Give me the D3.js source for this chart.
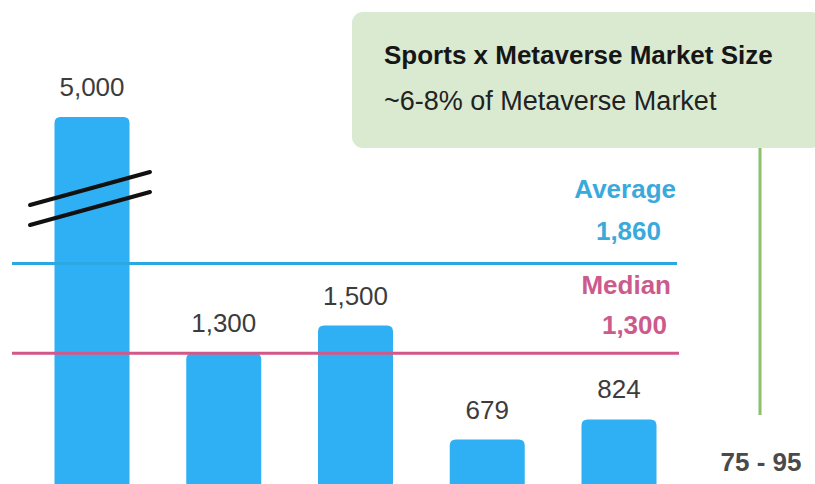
<!DOCTYPE html>
<html><head><meta charset="utf-8">
<script src="https://cdn.jsdelivr.net/npm/d3@7"></script>
<style>html,body{margin:0;padding:0;background:#fff;}svg{display:block;font-family:"Liberation Sans",Arial,Helvetica,sans-serif;}</style>
</head><body>
<svg id="c" width="815" height="484"></svg>
<script>
const categories = ["Estimate A","Estimate B","Estimate C","Estimate D","Estimate E"];
const values = [5000, 1300, 1500, 679, 824];
const valueLabels = ["5,000","1,300","1,500","679","824"];
const averageValue = 1860, averageLabel = "1,860";
const medianValue = 1300, medianLabel = "1,300";
const sportsRange = "75 - 95";
const boxTitle = "Sports x Metaverse Market Size";
const boxSubtitle = "~6-8% of Metaverse Market";

const svg = d3.select("#c");
const x = d3.scalePoint().domain(categories).range([92, 619]);
const y = d3.scaleLinear().domain([0, 3000]).range([534, 117]).clamp(true);
const barW = 75, r = 6;

function barPath(cx, top, bottom) {
  const l = cx - barW/2, rr = cx + barW/2;
  return `M${l},${bottom} L${l},${top+r} Q${l},${top} ${l+r},${top} L${rr-r},${top} Q${rr},${top} ${rr},${top+r} L${rr},${bottom} Z`;
}

// bars
svg.selectAll("path.bar").data(values).join("path")
  .attr("class","bar")
  .attr("fill","#2fb0f4")
  .attr("d",(d,i)=>barPath(x(categories[i]), y(d), y(0)));

// value labels
svg.selectAll("text.val").data(values).join("text")
  .attr("class","val")
  .attr("x",(d,i)=>x(categories[i]))
  .attr("y",d=>y(d)-21)
  .attr("text-anchor","middle")
  .attr("font-size",26)
  .attr("fill","#3c3c3c")
  .text((d,i)=>valueLabels[i]);

// break marks on first bar
const bx = x(categories[0]);
[0, 20].forEach(off=>{
  svg.append("line")
    .attr("x1", bx-62).attr("y1", 205+off)
    .attr("x2", bx+58).attr("y2", 172+off)
    .attr("stroke","#111").attr("stroke-width",4).attr("stroke-linecap","round");
});

// average & median lines
const avgY = y(averageValue)-12;
const medY = y(medianValue);
svg.append("line").attr("x1",12).attr("x2",677)
  .attr("y1",avgY).attr("y2",avgY)
  .attr("stroke","#2aa8e4").attr("stroke-width",3);
svg.append("line").attr("x1",12).attr("x2",679)
  .attr("y1",medY).attr("y2",medY)
  .attr("stroke","#d4578a").attr("stroke-width",3);

svg.append("text").attr("x",676).attr("y",avgY-65).attr("text-anchor","end")
  .attr("font-size",26).attr("font-weight","bold").attr("fill","#3aa9dc").text("Average");
svg.append("text").attr("x",661).attr("y",avgY-23).attr("text-anchor","end")
  .attr("font-size",26).attr("font-weight","bold").attr("fill","#3aa9dc").text(averageLabel);
svg.append("text").attr("x",671).attr("y",medY-59).attr("text-anchor","end")
  .attr("font-size",26).attr("font-weight","bold").attr("fill","#cc5a8c").text("Median");
svg.append("text").attr("x",667).attr("y",medY-19).attr("text-anchor","end")
  .attr("font-size",26).attr("font-weight","bold").attr("fill","#cc5a8c").text(medianLabel);

// green connector line
svg.append("line").attr("x1",760).attr("x2",760).attr("y1",147).attr("y2",415)
  .attr("stroke","#8cc06b").attr("stroke-width",3);
svg.append("text").attr("x",761).attr("y",471).attr("text-anchor","middle")
  .attr("font-size",26).attr("font-weight","bold").attr("fill","#4a4a4a").text(sportsRange);

// box
svg.append("rect").attr("x",352).attr("y",12).attr("width",470).attr("height",136)
  .attr("rx",11).attr("fill","#d9ead1");
svg.append("text").attr("x",384).attr("y",64).attr("font-size",26).attr("font-weight","bold")
  .attr("fill","#161616").text(boxTitle);
svg.append("text").attr("x",384).attr("y",110).attr("font-size",27)
  .attr("fill","#222").text(boxSubtitle);
</script>
</body></html>
